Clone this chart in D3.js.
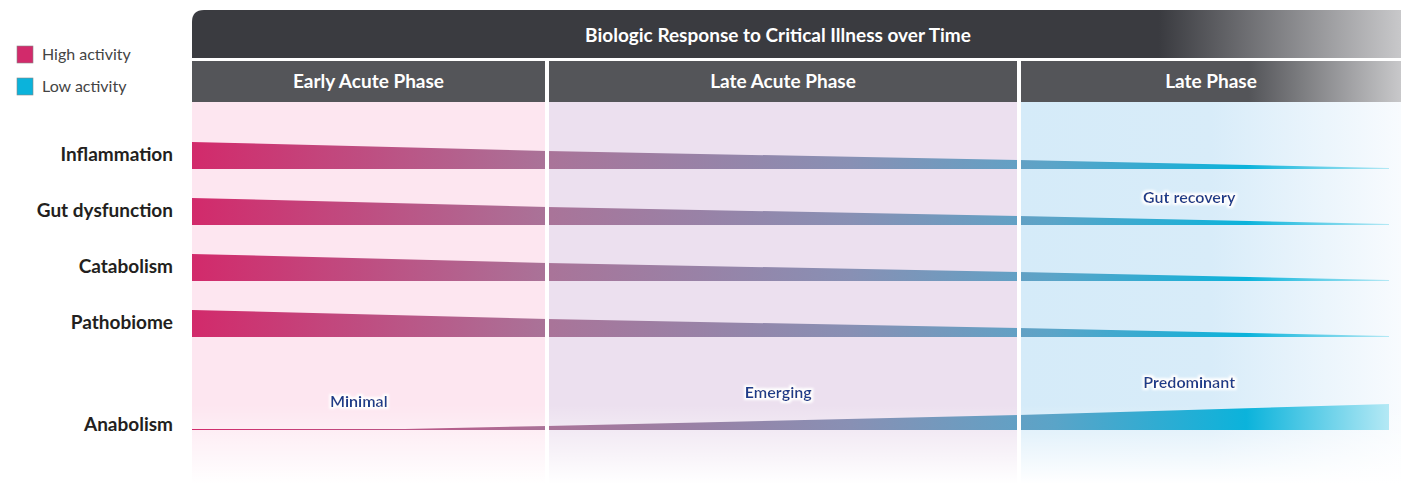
<!DOCTYPE html>
<html><head><meta charset="utf-8">
<script src="https://cdn.jsdelivr.net/npm/d3@7"></script>
<style>body{margin:0;background:#fff}svg{display:block;font-family:Lato,"Open Sans",sans-serif}</style>
</head><body><svg id="chart"></svg>
<script>
// phases and timepoints (0 = start, 3 = end)
const phases = ["Early Acute Phase", "Late Acute Phase", "Late Phase"];
const rows = ["Inflammation", "Gut dysfunction", "Catabolism", "Pathobiome"];
const times = [0, 1, 2, 3];
// band thickness (activity) at each timepoint
const declining = [27, 18, 9, 1];
const anabolismTimes = [0, 0.6, 1, 2, 3];
const anabolism = [1, 1, 4, 15, 26];
const notes = [
  {text: "Minimal", t: 0.47, y: 407},
  {text: "Emerging", t: 1.49, y: 398},
  {text: "Predominant", t: 2.46, y: 388},
  {text: "Gut recovery", t: 2.46, y: 203}
];

const W = 1401, H = 484;
const svg = d3.select("#chart").attr("width", W).attr("height", H);
const defs = svg.append("defs");

// piecewise x scale over the three phases
const x = d3.scaleLinear().domain(times).range([192, 547, 1019, 1389]);
const phaseEdges = [192, 547, 1019, 1401];
const rowY = d3.scalePoint().domain(rows).range([169, 337]);

// activity gradient
const grad = defs.append("linearGradient").attr("id", "act")
    .attr("gradientUnits", "userSpaceOnUse").attr("x1", 192).attr("x2", 1390);
[[0, "#d22a6b"], [0.3, "#a97499"], [0.55, "#8890b4"], [0.72, "#5aa4c8"],
 [0.88, "#0bb3db"], [1, "#b5e9f5"]].forEach(s =>
  grad.append("stop").attr("offset", s[0]).attr("stop-color", s[1]));

const hdr = defs.append("linearGradient").attr("id", "hdr");
[[0, "#3a3b40"], [0.8, "#3a3b40"], [1, "#c8c8ca"]].forEach(s =>
  hdr.append("stop").attr("offset", s[0]).attr("stop-color", s[1]));
const hdr2 = defs.append("linearGradient").attr("id", "hdr2");
[[0, "#545559"], [0.6, "#545559"], [1, "#c8c8ca"]].forEach(s =>
  hdr2.append("stop").attr("offset", s[0]).attr("stop-color", s[1]));
const late = defs.append("linearGradient").attr("id", "lateBg");
[[0, "#d5ebf9"], [0.5, "#d8ecf9"], [1, "#f8fbfe"]].forEach(s =>
  late.append("stop").attr("offset", s[0]).attr("stop-color", s[1]));
const fade = defs.append("linearGradient").attr("id", "fade").attr("x2", 0).attr("y2", 1);
[[0, "#fff", 0], [0.45, "#fff", 0], [1, "#fff", 1]].forEach(s =>
  fade.append("stop").attr("offset", s[0]).attr("stop-color", s[1]).attr("stop-opacity", s[2]));
const glow = defs.append("filter").attr("id", "glow").attr("x", -0.2).attr("y", -0.5).attr("width", 1.4).attr("height", 2);
glow.append("feMorphology").attr("in", "SourceAlpha").attr("operator", "dilate").attr("radius", 1.5).attr("result", "d");
glow.append("feGaussianBlur").attr("in", "d").attr("stdDeviation", 1).attr("result", "b");
glow.append("feFlood").attr("flood-color", "#fff");
glow.append("feComposite").attr("in2", "b").attr("operator", "in").attr("result", "w");
const m = glow.append("feMerge");
m.append("feMergeNode").attr("in", "w");
m.append("feMergeNode").attr("in", "SourceGraphic");

// panel backgrounds
const bgFill = ["#fde6f0", "#ece0ef", "url(#lateBg)"];
phases.forEach((p, i) => {
  const x0 = phaseEdges[i] + (i ? 2 : 0), x1 = phaseEdges[i + 1] - (i < 2 ? 2 : 0);
  svg.append("rect").attr("x", x0).attr("y", 102).attr("width", x1 - x0).attr("height", H - 102)
      .attr("fill", bgFill[i]);
  svg.append("rect").attr("x", x0).attr("y", 61).attr("width", x1 - x0).attr("height", 41)
      .attr("fill", i < 2 ? "#545559" : "url(#hdr2)");
  svg.append("text").attr("x", (x0 + x1) / 2).attr("y", 88).attr("text-anchor", "middle")
      .attr("fill", "#fff").attr("font-size", 19).attr("font-weight", 700).text(p);
});
svg.append("rect").attr("x", 192).attr("y", 340).attr("width", W - 192).attr("height", H - 340)
    .attr("fill", "url(#fade)");

// title bar with rounded top-left corner
svg.append("path").attr("d", `M192,58V22Q192,10 204,10H${W}V58Z`).attr("fill", "url(#hdr)");
svg.append("text").attr("x", 778).attr("y", 42).attr("text-anchor", "middle")
    .attr("fill", "#fff").attr("font-size", 19).attr("font-weight", 700)
    .text("Biologic Response to Critical Illness over Time");

// bands
const band = (ts, vs, base) => d3.area()
    .x((d, i) => x(ts[i])).y0(base).y1(d => base - d)(vs);
rows.forEach(r => {
  svg.append("path").attr("d", band(times, declining, rowY(r))).attr("fill", "url(#act)");
});
svg.append("path").attr("d", band(anabolismTimes, anabolism, 430)).attr("fill", "url(#act)");

// white phase dividers over bands
[545, 1017].forEach(px => svg.append("rect").attr("x", px).attr("y", 61).attr("width", 4)
    .attr("height", H - 61).attr("fill", "#fff"));

// row labels
rows.concat(["Anabolism"]).forEach((r, i) => {
  svg.append("text").attr("x", 173).attr("y", i < 4 ? rowY(r) - 8 : 431)
      .attr("text-anchor", "end").attr("fill", "#231f20").attr("font-size", 19)
      .attr("font-weight", 700).text(r);
});

// notes
notes.forEach(n => svg.append("text").attr("x", x(n.t)).attr("y", n.y).attr("text-anchor", "middle")
    .attr("fill", "#1f3e8c").attr("font-size", 16).attr("font-weight", 700)
    .attr("filter", "url(#glow)").text(n.text));

// legend
const legend = [["High activity", "#d22a6b"], ["Low activity", "#0bb3db"]];
legend.forEach((l, i) => {
  svg.append("rect").attr("x", 17).attr("y", 46 + i * 32).attr("width", 16).attr("height", 17)
      .attr("fill", l[1]).attr("stroke", "#888").attr("stroke-width", 0.6);
  svg.append("text").attr("x", 42).attr("y", 60 + i * 32).attr("fill", "#444")
      .attr("font-size", 16).text(l[0]);
});
</script></body></html>
